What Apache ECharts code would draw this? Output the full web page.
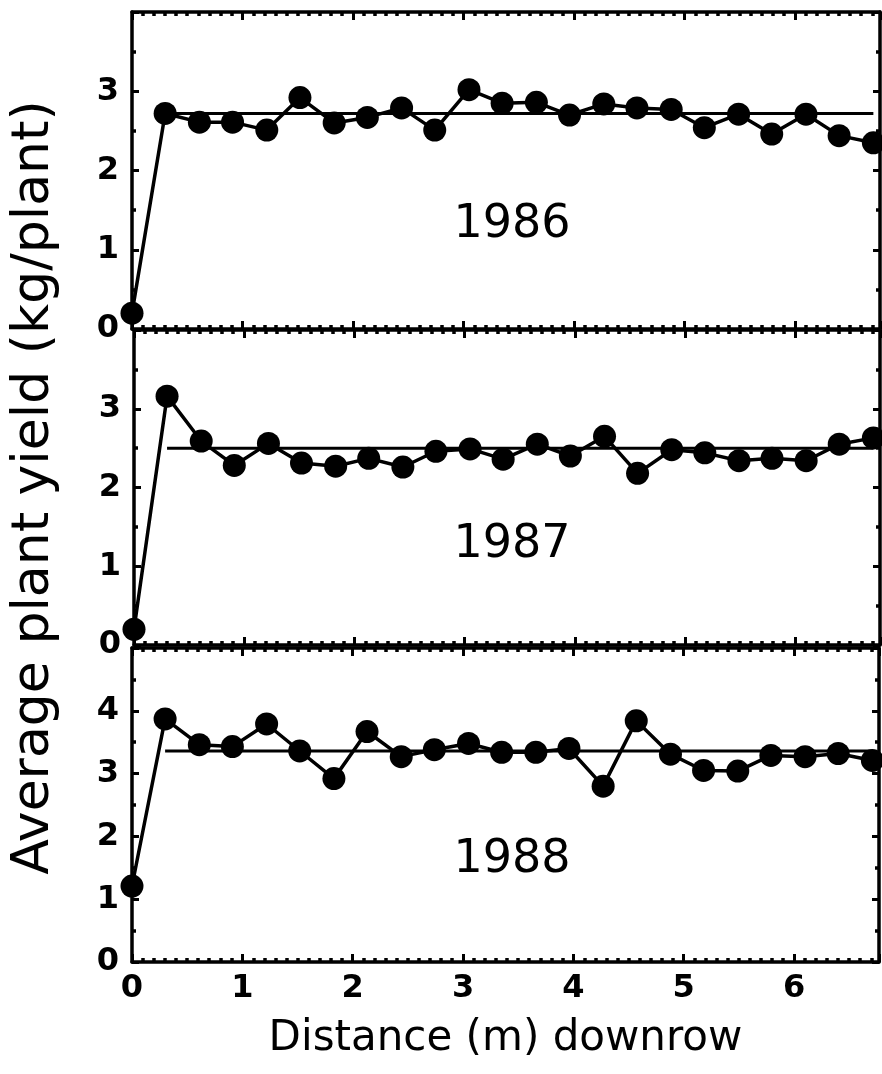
<!DOCTYPE html>
<html>
<head>
<meta charset="utf-8">
<script src="https://cdn.jsdelivr.net/npm/echarts@6/dist/echarts.min.js"></script>
<style>
html, body { margin: 0; padding: 0; background: #fff; }
#chart { width: 882px; height: 1074px; }
</style>
</head>
<body>
<div id="chart"></div>
<script>
// distance downrow (m), one plant per foot
const distance = [0, 0.30, 0.61, 0.91, 1.22, 1.52, 1.83, 2.13, 2.44, 2.74, 3.05, 3.35,
  3.66, 3.96, 4.27, 4.57, 4.88, 5.18, 5.49, 5.79, 6.10, 6.40, 6.71];

// average plant yield (kg/plant)
const yield1986 = [0.20, 2.72, 2.61, 2.61, 2.51, 2.92, 2.60, 2.67, 2.79, 2.51, 3.02, 2.85,
  2.86, 2.70, 2.84, 2.79, 2.77, 2.54, 2.71, 2.46, 2.71, 2.44, 2.35];
const yield1987 = [0.20, 3.16, 2.59, 2.28, 2.56, 2.31, 2.27, 2.37, 2.26, 2.46, 2.49, 2.36,
  2.55, 2.40, 2.65, 2.18, 2.48, 2.44, 2.34, 2.37, 2.34, 2.55, 2.63];
const yield1988 = [1.21, 3.87, 3.46, 3.43, 3.79, 3.36, 2.92, 3.67, 3.27, 3.38, 3.48, 3.34,
  3.34, 3.40, 2.80, 3.84, 3.31, 3.05, 3.04, 3.29, 3.27, 3.32, 3.21];

// mean yield away from the row end
const means = [2.72, 2.50, 3.36];
const years = ['1986', '1987', '1988'];
const yMax = [4, 4, 5];
const xTicks = [0, 1, 2, 3, 4, 5, 6];

const font = 'DejaVu Sans';
const panels = [yield1986, yield1987, yield1988];
const gridTop = [12, 330, 648];
const gridHeight = [317, 315, 314];
const yearY = [225, 545, 860];

const chart = echarts.init(document.getElementById('chart'));

const grids = [], xAxes = [], yAxes = [], series = [], graphics = [];

const lineStyle = { color: '#000', width: 3.5 };

panels.forEach((values, i) => {
  grids.push({ left: 132, width: 748, top: gridTop[i], height: gridHeight[i] });

  ['bottom', 'top'].forEach(pos => {
    const labelled = (i === 2 && pos === 'bottom');
    xAxes.push({
      type: 'value', gridIndex: i, position: pos,
      min: 0, max: 6.77, interval: 1,
      axisLine: { show: true, onZero: false, lineStyle: lineStyle },
      axisTick: { show: true, inside: true, length: 8, lineStyle: { color: '#000', width: 3 } },
      minorTick: { show: true, splitNumber: 10, length: 4, lineStyle: { color: '#000', width: 3.5 } },
      splitLine: { show: false },
      axisLabel: {
        show: labelled, color: '#000', fontSize: 32, fontWeight: 'bold', fontFamily: font, margin: 11,
        formatter: v => xTicks.includes(v) ? String(v) : ''
      },
      name: labelled ? 'Distance (m) downrow' : '',
      nameLocation: 'middle', nameGap: 56,
      nameTextStyle: { color: '#000', fontSize: 42, fontFamily: font }
    });
  });

  ['left', 'right'].forEach(pos => {
    const isLeft = pos === 'left';
    yAxes.push({
      type: 'value', gridIndex: i, position: pos,
      min: 0, max: yMax[i], interval: 1,
      axisLine: { show: true, onZero: false, lineStyle: lineStyle },
      axisTick: { show: true, inside: true, length: 7, lineStyle: { color: '#000', width: 3 } },
      minorTick: { show: true, splitNumber: 2, length: 4, lineStyle: { color: '#000', width: 3.5 } },
      splitLine: { show: false },
      axisLabel: {
        show: isLeft, showMaxLabel: false, color: '#000', fontSize: 32, fontWeight: 'bold',
        fontFamily: font, margin: 13
      },
      name: (isLeft && i === 1) ? 'Average plant yield (kg/plant)' : '',
      nameLocation: 'middle', nameGap: 74, nameRotate: 90,
      nameTextStyle: { color: '#000', fontSize: 52, fontFamily: font }
    });
  });

  const last = distance.length - 1;
  series.push({
    type: 'line', xAxisIndex: i * 2, yAxisIndex: i * 2,
    data: [[distance[1], means[i]], [distance[last], means[i]]],
    symbol: 'none', lineStyle: { color: '#000', width: 3 }, z: 2
  });
  series.push({
    type: 'line', xAxisIndex: i * 2, yAxisIndex: i * 2,
    data: distance.map((d, k) => [d, values[k]]),
    symbol: 'circle', symbolSize: 23,
    itemStyle: { color: '#000' },
    lineStyle: { color: '#000', width: 3.5 }, z: 3
  });

  graphics.push({
    type: 'text', x: 512, y: yearY[i],
    style: { text: years[i], fontSize: 46, fontFamily: font, fill: '#000', align: 'center', verticalAlign: 'middle' }
  });
});

chart.setOption({
  animation: false,
  backgroundColor: '#fff',
  grid: grids,
  xAxis: xAxes,
  yAxis: yAxes,
  series: series,
  graphic: graphics
});
</script>
</body>
</html>
